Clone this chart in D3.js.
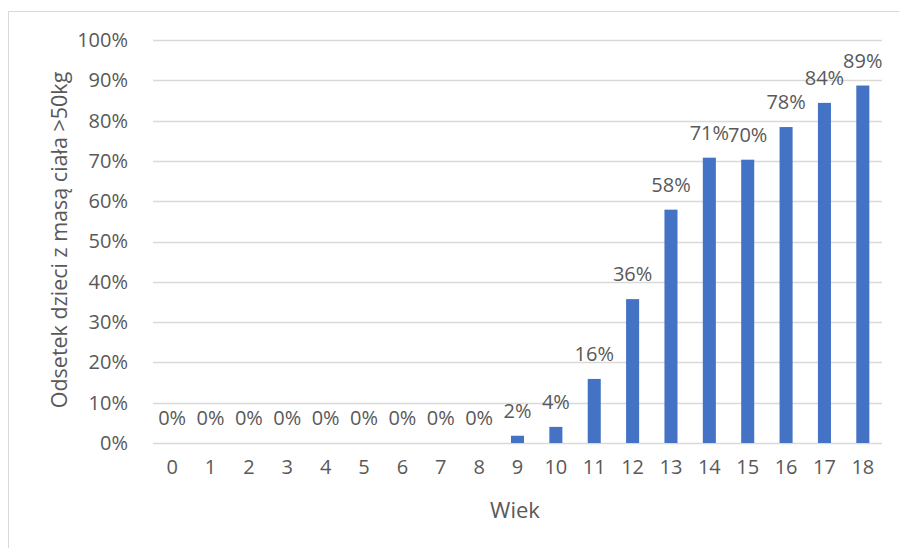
<!DOCTYPE html>
<html>
<head>
<meta charset="utf-8">
<script src="https://cdn.jsdelivr.net/npm/d3@7"></script>
<style>
  html, body { margin: 0; padding: 0; background: #fff; }
  svg { display: block; font-family: 'Open Sans', sans-serif; }
</style>
</head>
<body>
<div id="chart"></div>
<script>
const ages = ['0', '1', '2', '3', '4', '5', '6', '7', '8', '9', '10', '11', '12', '13', '14', '15', '16', '17', '18'];
const shares = [0, 0, 0, 0, 0, 0, 0, 0, 0, 0.018, 0.040, 0.159, 0.357, 0.579, 0.708, 0.703, 0.784, 0.844, 0.887];
const yTicks = [0, 0.1, 0.2, 0.3, 0.4, 0.5, 0.6, 0.7, 0.8, 0.9, 1.0];

const W = 899, H = 548;
const margin = { top: 40, right: 17, bottom: 105, left: 153 };
const width = W - margin.left - margin.right;
const height = H - margin.top - margin.bottom;
const textColor = '#595959';

const svg = d3.select('#chart').append('svg')
    .attr('width', W)
    .attr('height', H);

// chart frame (only top and left edges are visible)
svg.append('path')
    .attr('d', `M8.5,${H}V11.5H${W}`)
    .attr('fill', 'none')
    .attr('stroke', '#d9d9d9')
    .attr('stroke-width', 1);

const g = svg.append('g')
    .attr('transform', `translate(${margin.left},${margin.top})`);

const x = d3.scaleBand()
    .domain(ages)
    .range([0, width])
    .paddingInner(0.66)
    .paddingOuter(0.33);

const y = d3.scaleLinear()
    .domain([0, 1])
    .range([height, 0]);

// gridlines
g.append('g')
    .selectAll('line')
    .data(yTicks)
    .join('line')
    .attr('x1', 0)
    .attr('x2', width)
    .attr('y1', d => Math.round(y(d)) + 0.5)
    .attr('y2', d => Math.round(y(d)) + 0.5)
    .attr('stroke', '#d9d9d9')
    .attr('stroke-width', 1.5);

// y axis labels
const yAxis = g.append('g')
    .call(d3.axisLeft(y).tickValues(yTicks).tickFormat(d3.format('.0%')).tickSize(0).tickPadding(25));
yAxis.select('.domain').remove();
yAxis.selectAll('text')
    .style('font-size', '20px')
    .style('font-family', "'Open Sans', sans-serif")
    .attr('fill', textColor);

// x axis labels
const xAxis = g.append('g')
    .attr('transform', `translate(0,${height})`)
    .call(d3.axisBottom(x).tickSize(0).tickPadding(17));
xAxis.select('.domain').remove();
xAxis.selectAll('text')
    .style('font-size', '20px')
    .style('font-family', "'Open Sans', sans-serif")
    .attr('fill', textColor);

// bars
g.selectAll('.bar')
    .data(shares)
    .join('rect')
    .attr('class', 'bar')
    .attr('x', (d, i) => x(ages[i]))
    .attr('width', x.bandwidth())
    .attr('y', d => y(d))
    .attr('height', d => height - y(d))
    .attr('fill', '#4472c4');

// data labels
g.selectAll('.label')
    .data(shares)
    .join('text')
    .attr('class', 'label')
    .attr('x', (d, i) => x(ages[i]) + x.bandwidth() / 2)
    .attr('y', d => y(d) - 18)
    .attr('text-anchor', 'middle')
    .style('font-size', '20px')
    .attr('fill', textColor)
    .text(d => d3.format('.0%')(d));

// axis titles
svg.append('text')
    .attr('transform', `translate(67,${margin.top + 200}) rotate(-90)`)
    .attr('text-anchor', 'middle')
    .style('font-size', '21.5px')
    .attr('fill', textColor)
    .text('Odsetek dzieci z masą ciała >50kg');

svg.append('text')
    .attr('x', 515)
    .attr('y', 518)
    .attr('text-anchor', 'middle')
    .style('font-size', '22px')
    .attr('fill', textColor)
    .text('Wiek');
</script>
</body>
</html>
